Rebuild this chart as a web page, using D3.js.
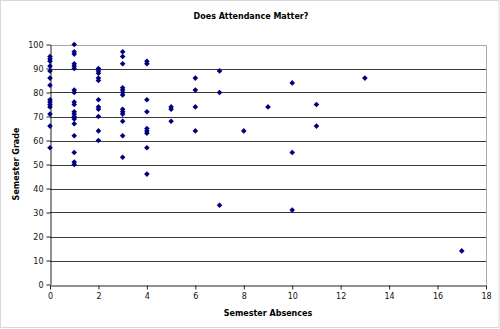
<!DOCTYPE html>
<html>
<head>
<meta charset="utf-8">
<script src="https://cdn.jsdelivr.net/npm/d3@7"></script>
<style>
  html, body { margin: 0; padding: 0; background: #fff; }
  svg { display: block; font-family: "DejaVu Sans", Verdana, sans-serif; }
</style>
</head>
<body>
<svg id="chart" width="500" height="329"></svg>
<script>
// Semester absences and the grade earned, one entry per student
const absences = [
  0,0,0,0,0,0,0,0,0,0,0,0,0,0,
  1,1,1,1,1,1,1,1,1,1,1,1,1,1,1,1,1,1,1,
  2,2,2,2,2,2,2,2,2,2,2,
  3,3,3,3,3,3,3,3,3,3,3,3,3,
  4,4,4,4,4,4,4,4,4,
  5,5,5,
  6,6,6,6,
  7,7,7,
  8,
  9,
  10,10,10,
  11,11,
  13,
  17
];
const grades = [
  95,94,93,91,89,86,83,77,76,75,74,71,66,57,
  100,97,96,92,91,90,81,80,76,75,72,71,70,69,67,62,55,51,50,
  90,89,88,86,85,77,74,73,70,64,60,
  97,95,92,82,81,80,79,73,72,71,68,62,53,
  93,92,77,72,65,64,63,57,46,
  74,73,68,
  86,81,74,64,
  89,80,33,
  64,
  74,
  84,55,31,
  75,66,
  86,
  14
];
const xTicks = [0, 2, 4, 6, 8, 10, 12, 14, 16, 18];
const yTicks = [0, 10, 20, 30, 40, 50, 60, 70, 80, 90, 100];

const svg = d3.select("#chart");
const W = 500, H = 329;
const plot = { left: 50, right: 486, top: 44.5, bottom: 284.5 };

// outer chart frame
svg.append("rect")
  .attr("x", 0.5).attr("y", 0.5)
  .attr("width", W - 1.5).attr("height", H - 2)
  .attr("fill", "#fff").attr("stroke", "#d8d8d8");

const x = d3.scaleLinear().domain([0, 18]).range([plot.left, plot.right]);
const y = d3.scaleLinear().domain([0, 100]).range([plot.bottom, plot.top]);

// horizontal gridlines
svg.append("g")
  .selectAll("line")
  .data(yTicks.filter(v => v > 0 && v < 100))
  .join("line")
  .attr("x1", plot.left).attr("x2", plot.right)
  .attr("y1", d => Math.round(y(d)) + 0.5).attr("y2", d => Math.round(y(d)) + 0.5)
  .attr("stroke", "#3a3a3a").attr("stroke-width", 1);

// plot area border (top and right)
svg.append("path")
  .attr("d", `M${plot.left},${Math.round(plot.top) + 0.5}H${plot.right + 0.5}V${plot.bottom}`)
  .attr("fill", "none").attr("stroke", "#a8a8a8");

// axes
const xAxis = d3.axisBottom(x).tickValues(xTicks).tickSize(4).tickSizeOuter(0).tickPadding(4);
const gx = svg.append("g")
  .attr("transform", `translate(0,${Math.round(plot.bottom) + 0.5})`)
  .call(xAxis);
const yAxis = d3.axisLeft(y).tickValues(yTicks).tickSize(4).tickSizeOuter(0).tickPadding(3);
const gy = svg.append("g")
  .attr("transform", `translate(${plot.left + 0.5},0)`)
  .call(yAxis);

[gx, gy].forEach(g => {
  g.select(".domain").attr("stroke", "#222");
  g.selectAll(".tick line").attr("stroke", "#222");
  g.selectAll(".tick text")
    .attr("fill", "#111")
    .style("font-family", "'DejaVu Sans', Verdana, sans-serif")
    .style("font-size", "8px");
});

// data points as small square diamonds
const diamond = d3.symbol().type(d3.symbolDiamond2).size(20);
svg.append("g")
  .selectAll("path")
  .data(absences.map((a, i) => ({ a, g: grades[i] })))
  .join("path")
  .attr("d", diamond)
  .attr("transform", d => `translate(${x(d.a)},${y(d.g)})`)
  .attr("fill", "#000080");

// titles
svg.append("text")
  .attr("x", 251).attr("y", 19)
  .attr("text-anchor", "middle")
  .style("font-size", "8px").style("font-weight", "bold")
  .attr("fill", "#000")
  .text("Does Attendance Matter?");

svg.append("text")
  .attr("x", 268).attr("y", 316)
  .attr("text-anchor", "middle")
  .style("font-size", "8px").style("font-weight", "bold")
  .attr("fill", "#000")
  .text("Semester Absences");

svg.append("text")
  .attr("transform", "translate(19,164) rotate(-90)")
  .attr("text-anchor", "middle")
  .style("font-size", "8px").style("font-weight", "bold")
  .attr("fill", "#000")
  .text("Semester Grade");
</script>
</body>
</html>
